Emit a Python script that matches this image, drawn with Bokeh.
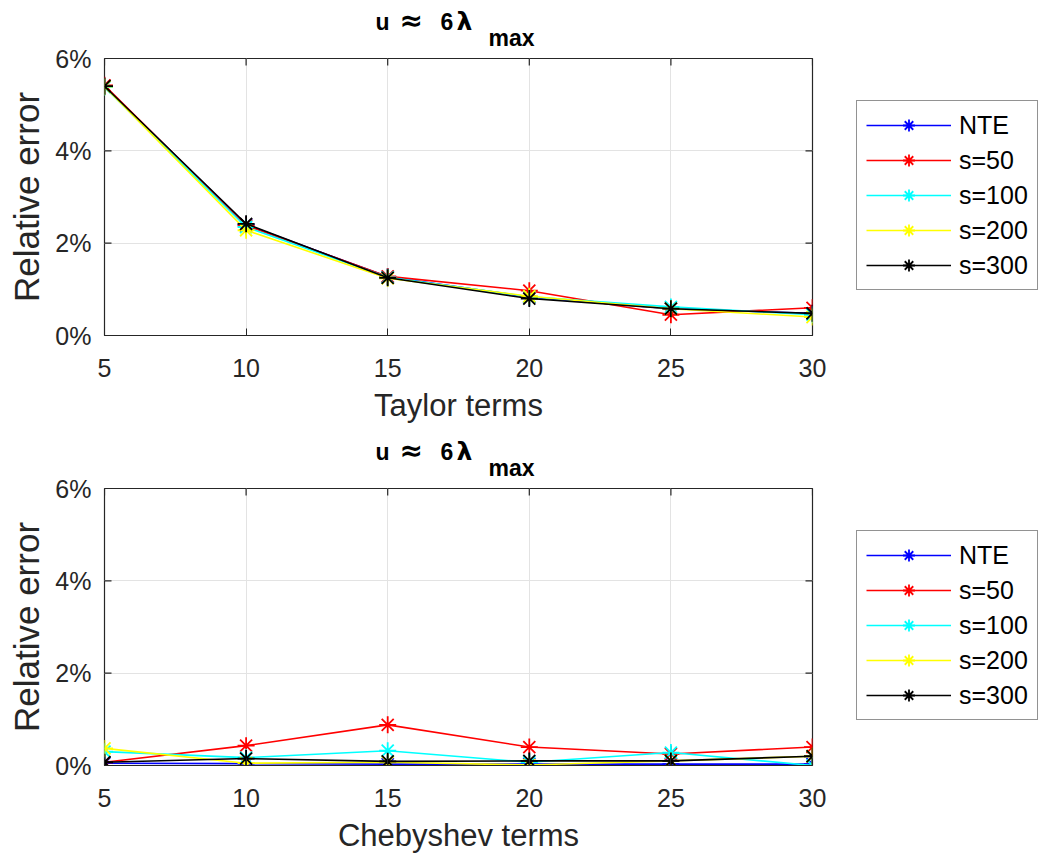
import math
from bokeh.plotting import figure
from bokeh.layouts import column, row
from bokeh.models import (Range1d, FixedTicker, PrintfTickFormatter, Legend,
                          LegendItem)
from bokeh.core.properties import value
from bokeh.embed import file_html
from bokeh.resources import INLINE

# ---------------- data ----------------
terms = [5, 10, 15, 20, 25, 30]
series_names = ["NTE", "s=50", "s=100", "s=200", "s=300"]
series_colors = ["#0000FF", "#FF0000", "#00FFFF", "#FFFF00", "#000000"]
y_ticks = [0, 2, 4, 6]

# relative error in percent, Taylor expansion
taylor_nte = [5.40, 2.40, 1.27, 0.83, 0.58, 0.48]
taylor_s50 = [5.42, 2.38, 1.28, 0.97, 0.45, 0.60]
taylor_s100 = [5.38, 2.35, 1.26, 0.84, 0.62, 0.45]
taylor_s200 = [5.39, 2.28, 1.24, 0.85, 0.58, 0.40]
taylor_s300 = [5.40, 2.42, 1.25, 0.80, 0.58, 0.48]

# relative error in percent, Chebyshev expansion
cheb_nte = [0.05, 0.04, 0.03, 0.03, 0.03, 0.03]
cheb_s50 = [0.07, 0.43, 0.88, 0.40, 0.25, 0.40]
cheb_s100 = [0.30, 0.17, 0.32, 0.07, 0.28, 0.00]
cheb_s200 = [0.37, 0.05, 0.07, 0.01, 0.10, 0.20]
cheb_s300 = [0.07, 0.15, 0.09, 0.10, 0.10, 0.20]

x_labels = ["Taylor terms", "Chebyshev terms"]
y_label = "Relative error"
title_parts = ["u", "≈", "6", "λ", "max"]

FONT = "Liberation Sans"
AX = "#262626"
AXW = 95         # width of the y-axis strip (before its 1px frame)
PADL = 8         # left border of the plot / title figures
FW = 708
FH = 277
RIGHT = 228


def common(fig):
    fig.outline_line_color = None
    fig.background_fill_color = "white"
    fig.border_fill_color = "white"


def make_title(th):
    t = figure(frame_width=FW, frame_height=th, title=None,
               x_range=Range1d(terms[0], terms[-1]), y_range=Range1d(0, 1),
               x_axis_type=None, y_axis_type=None,
               output_backend="svg", toolbar_location=None,
               min_border_left=PADL, min_border_right=RIGHT,
               min_border_top=0, min_border_bottom=0)
    common(t)
    t.grid.visible = False
    xmid = (terms[0] + terms[-1]) / 2
    # (x offset px, y offset px, size, font) for each title piece
    styles = [(-83, -36, "23px", FONT),
              (-59, -37, "28px", "DejaVu Sans"),
              (-18, -36, "23px", FONT),
              (-2, -36, "25px", "DejaVu Sans"),
              (30, -20, "23px", FONT)]
    for txt, (dx, dy, fs, fnt) in zip(title_parts, styles):
        t.text(x=[xmid], y=[0], text=[txt], x_offset=dx, y_offset=dy,
               text_font=value(fnt), text_font_size=value(fs),
               text_font_style="bold", text_color="black",
               text_align="left", text_baseline="alphabetic")
    return t


def make_yaxis(top, bottom):
    a = figure(frame_width=1, frame_height=FH, title=None,
               x_range=Range1d(0, 1),
               y_range=Range1d(y_ticks[0], y_ticks[-1]),
               x_axis_type=None, output_backend="svg", toolbar_location=None,
               min_border_left=AXW, min_border_right=0,
               min_border_top=top, min_border_bottom=bottom)
    common(a)
    a.grid.visible = False
    ax = a.yaxis[0]
    ax.ticker = FixedTicker(ticks=y_ticks)
    ax.formatter = PrintfTickFormatter(format="%d%%")
    ax.axis_line_color = None
    ax.major_tick_line_color = None
    ax.minor_tick_line_color = None
    ax.major_tick_in = 0
    ax.major_tick_out = 0
    ax.major_label_text_font = FONT
    ax.major_label_text_font_size = "25px"
    ax.major_label_text_color = AX
    ax.major_label_standoff = 4
    ax.axis_label = y_label
    ax.axis_label_text_font = FONT
    ax.axis_label_text_font_size = "35px"
    ax.axis_label_text_font_style = "normal"
    ax.axis_label_text_color = AX
    ax.axis_label_standoff = 6
    return a


def make_panel(xlabel, series, border_bottom):
    p = figure(frame_width=FW, frame_height=FH, title=None,
               x_range=Range1d(terms[0], terms[-1]),
               y_range=Range1d(y_ticks[0], y_ticks[-1]),
               y_axis_location=None,
               output_backend="svg", toolbar_location=None,
               min_border_left=PADL, min_border_right=RIGHT,
               min_border_top=1, min_border_bottom=border_bottom)
    p.background_fill_color = "white"
    p.border_fill_color = "white"
    p.outline_line_color = AX
    p.outline_line_width = 1.2

    ax = p.xaxis[0]
    ax.ticker = FixedTicker(ticks=terms)
    ax.axis_line_color = AX
    ax.axis_line_width = 1.2
    ax.major_tick_line_color = AX
    ax.major_tick_in = 7
    ax.major_tick_out = 0
    ax.minor_tick_line_color = None
    ax.major_label_text_font = FONT
    ax.major_label_text_font_size = "25px"
    ax.major_label_text_color = AX
    ax.major_label_standoff = 23
    ax.axis_label = xlabel
    ax.axis_label_text_font = FONT
    ax.axis_label_text_font_size = "31px"
    ax.axis_label_text_font_style = "normal"
    ax.axis_label_text_color = AX
    ax.axis_label_standoff = 8

    # grid
    p.xgrid.ticker = FixedTicker(ticks=terms)
    p.ygrid.ticker = FixedTicker(ticks=y_ticks)
    p.grid.grid_line_color = "#E3E3E3"
    p.grid.grid_line_width = 1

    # inward box ticks on the top, right and left edges
    p.ray(x=terms, y=[y_ticks[-1]] * len(terms), length=7,
          length_units="screen", angle=-math.pi / 2,
          line_color=AX, line_width=1.2)
    p.ray(x=[terms[-1]] * len(y_ticks), y=y_ticks, length=7,
          length_units="screen", angle=math.pi,
          line_color=AX, line_width=1.2)
    p.ray(x=[terms[0]] * len(y_ticks), y=y_ticks, length=7,
          length_units="screen", angle=0,
          line_color=AX, line_width=1.2)

    items = []
    for name, color, ys in zip(series_names, series_colors, series):
        ln = p.line(terms, ys, line_color=color, line_width=1.6)
        sc = p.scatter(terms, ys, marker="asterisk", size=17,
                       line_color=color, line_width=1.8)
        items.append(LegendItem(label=name, renderers=[ln, sc]))

    legend = Legend(items=items, location=(44, 45))
    legend.label_text_font = FONT
    legend.label_text_font_size = "25px"
    legend.label_text_color = "black"
    legend.glyph_width = 85
    legend.glyph_height = 30
    legend.label_height = 30
    legend.label_standoff = 8
    legend.spacing = 5
    legend.padding = 9
    legend.margin = 22
    legend.border_line_color = AX
    legend.border_line_width = 1.2
    legend.background_fill_color = "white"
    legend.background_fill_alpha = 1
    p.add_layout(legend, "right")
    return p


TH1, TH2 = 57, 56
B1, B2 = 96, 95

t1 = make_title(TH1)
p1 = make_panel(x_labels[0],
                [taylor_nte, taylor_s50, taylor_s100, taylor_s200, taylor_s300],
                B1)
a1 = make_yaxis(TH1 + 1, B1)

t2 = make_title(TH2)
p2 = make_panel(x_labels[1],
                [cheb_nte, cheb_s50, cheb_s100, cheb_s200, cheb_s300],
                B2)
a2 = make_yaxis(TH2 + 1, B2)

layout = column(row(a1, column(t1, p1, spacing=0), spacing=0),
                row(a2, column(t2, p2, spacing=0), spacing=0),
                spacing=0)
open("out.html", "w").write(file_html(layout, INLINE))
